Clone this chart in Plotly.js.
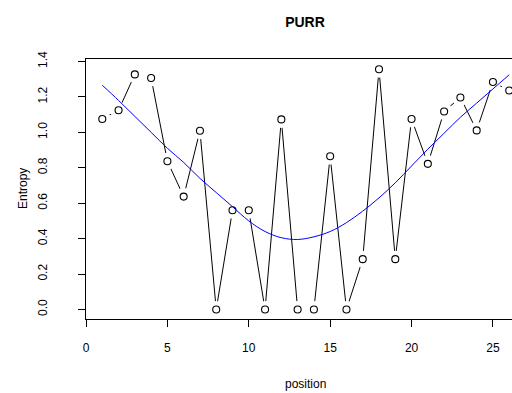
<!DOCTYPE html>
<html>
<head>
<meta charset="utf-8">
<script src="https://cdn.plot.ly/plotly-3.0.1.min.js"></script>
<style>html,body{margin:0;padding:0;background:#fff;}#chart{width:512px;height:393px;}</style>
</head>
<body>
<div id="chart"></div>
<script>
const positions = [1,2,3,4,5,6,7,8,9,10,11,12,13,14,15,16,17,18,19,20,21,22,23,24,25,26];
const entropy = [1.075,1.125,1.327,1.307,0.837,0.637,1.009,0,0.56,0.56,0,1.073,0,0,0.865,0,0.284,1.356,0.284,1.075,0.822,1.118,1.197,1.011,1.284,1.236];
const fitted = [1.266,1.18,1.09,1.0,0.91,0.83,0.74,0.66,0.58,0.50,0.44,0.405,0.395,0.41,0.44,0.49,0.555,0.63,0.715,0.81,0.905,0.995,1.085,1.165,1.245,1.325];
const xTicks = [0,5,10,15,20,25];
const yTicks = [0,0.2,0.4,0.6,0.8,1.0,1.2,1.4];
const yTickLabels = ["0.0","0.2","0.4","0.6","0.8","1.0","1.2","1.4"];

const font = "Liberation Sans, Arial, sans-serif";
const traces = [
  {x: positions, y: entropy, mode: 'lines', line: {color: '#000', width: 1}, hoverinfo: 'skip', cliponaxis: false},
  {x: positions, y: entropy, mode: 'markers', marker: {symbol: 'circle', size: 17, color: '#fff', line: {width: 0}}, hoverinfo: 'skip', cliponaxis: false},
  {x: positions, y: fitted, mode: 'lines', line: {color: '#0000ff', width: 1, shape: 'spline'}, hoverinfo: 'skip'},
  {x: positions, y: entropy, mode: 'markers', marker: {symbol: 'circle-open', size: 7, color: '#000', line: {width: 1.1, color: '#000'}}, cliponaxis: false}
];
const layout = {
  width: 512, height: 393,
  margin: {l: 86, r: 0, t: 59, b: 74},
  paper_bgcolor: '#fff', plot_bgcolor: '#fff',
  showlegend: false,
  font: {family: font, size: 12, color: '#000'},
  title: {text: '<b>PURR</b>', font: {family: font, size: 14, color: '#000'}, x: 305/512, xanchor: 'center', xref: 'container', y: 1 - 22/393, yanchor: 'middle', yref: 'container'},
  xaxis: {
    range: [0, 26.17], showgrid: false, zeroline: false,
    showline: true, linecolor: '#000', linewidth: 1, mirror: true,
    ticks: 'outside', ticklen: 7, tickcolor: '#000', tickwidth: 1,
    tickvals: xTicks, ticktext: xTicks.map(String),
    ticklabelstandoff: 11,
    tickfont: {family: font, size: 12, color: '#000'}
  },
  yaxis: {
    range: [-0.054, 1.414], showgrid: false, zeroline: false,
    showline: true, linecolor: '#000', linewidth: 1,
    ticks: 'outside', ticklen: 7, tickcolor: '#000', tickwidth: 1,
    tickvals: yTicks, ticktext: yTickLabels, tickangle: -90,
    ticklabelstandoff: 26,
    tickfont: {family: font, size: 12, color: '#000'}
  },
  annotations: [
    {text: 'position', xref: 'paper', yref: 'paper', x: (305-86)/426, y: -(385-319.5)/260.5, xanchor: 'center', yanchor: 'middle', showarrow: false, font: {family: font, size: 12, color: '#000'}},
    {text: 'Entropy', xref: 'paper', yref: 'paper', x: -(86-23)/426, y: 0.5, xanchor: 'center', yanchor: 'middle', textangle: -90, showarrow: false, font: {family: font, size: 12, color: '#000'}}
  ]
};
Plotly.newPlot('chart', traces, layout, {staticPlot: true, displayModeBar: false});
</script>
</body>
</html>
